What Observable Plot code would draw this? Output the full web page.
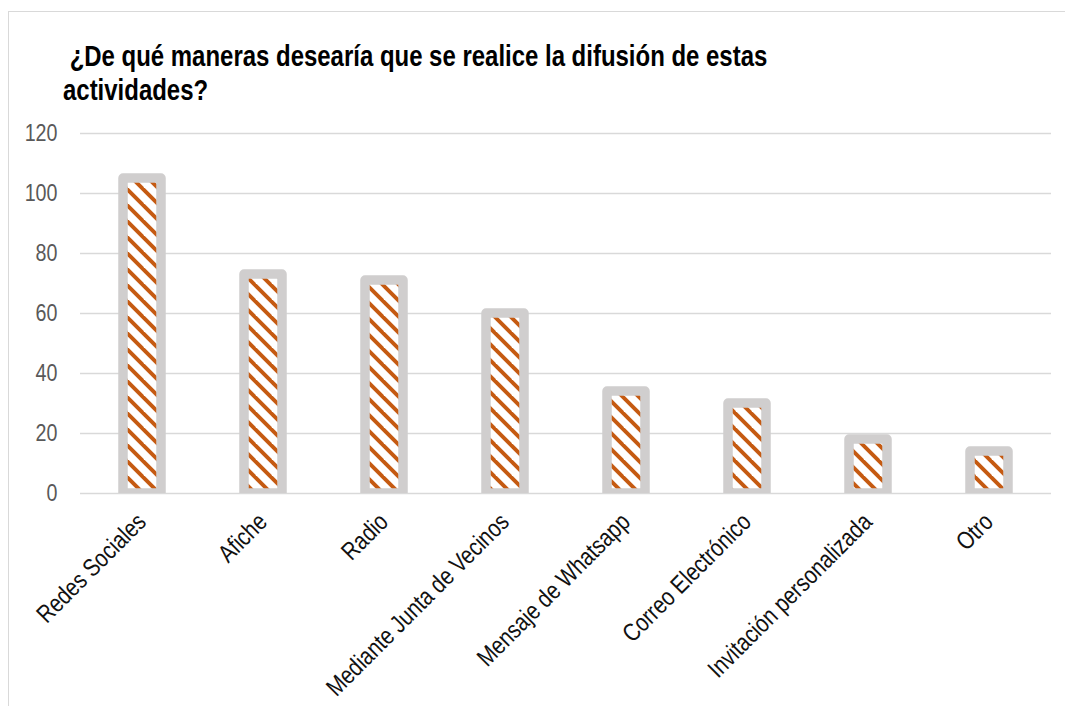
<!DOCTYPE html>
<html>
<head>
<meta charset="utf-8">
<script src="https://cdn.jsdelivr.net/npm/d3@7"></script>
<script src="https://cdn.jsdelivr.net/npm/@observablehq/plot@0.6"></script>
<style>
  html, body { margin: 0; padding: 0; overflow: hidden; background: #fff; }
  #wrap { position: relative; width: 1065px; height: 706px; overflow: hidden; }
  #frame { position: absolute; left: 8px; top: 11px; width: 1200px; height: 900px; border: 1px solid #d9d9d9; box-sizing: border-box; }
  #title { position: absolute; left: 63px; top: 40px; margin: 0;
    font-family: "Liberation Sans", Arial, sans-serif;
    font-weight: bold; font-size: 29px; line-height: 33.5px; color: #000; white-space: pre;
    transform: scaleX(0.826); transform-origin: 0 0; }
  #chart { position: absolute; left: 0; top: 110px; }
</style>
</head>
<body>
<div id="wrap">
  <div id="frame"></div>
  <div id="title"> ¿De qué maneras desearía que se realice la difusión de estas
actividades?</div>
  <div id="chart"></div>
</div>
<script>
const categories = ["Redes Sociales", "Afiche", "Radio", "Mediante Junta de Vecinos", "Mensaje de Whatsapp", "Correo Electrónico", "Invitación personalizada", "Otro"];
const values = [105, 73, 71, 60, 34, 30, 18, 14];
const yTicks = [0, 20, 40, 60, 80, 100, 120];

const data = categories.map((c, i) => ({category: c, value: values[i]}));
const FONT = '"Liberation Sans", Arial, sans-serif';

const plot = Plot.plot({
  width: 1065,
  height: 596,
  marginLeft: 80,
  marginRight: 14,
  marginTop: 23,
  marginBottom: 213,
  style: {fontFamily: FONT, background: "transparent", overflow: "visible"},
  x: {domain: categories, paddingInner: 0.69, paddingOuter: 0.345, axis: null},
  y: {domain: [0, 120], axis: null},
  marks: [
    Plot.gridY(yTicks, {stroke: "#d9d9d9", strokeOpacity: 1, strokeWidth: 1.5}),
    Plot.barY(data, {x: "category", y: "value", fill: "url(#stripes)", stroke: "#d0cece", strokeWidth: 9.5, strokeLinejoin: "round", clip: true}),
    Plot.text(yTicks, {y: d => d, frameAnchor: "left", textAnchor: "end", dx: -23, fontSize: 24, fill: "#595959"}),
    Plot.text(categories, {x: d => d, frameAnchor: "bottom", rotate: -45, textAnchor: "end", dx: 5, dy: 30, fontSize: 25, fill: "#111"})
  ]
});

// pattern definition for striped bars
const svg = d3.select(plot);
const defs = svg.insert("defs", ":first-child");
const pat = defs.append("pattern")
  .attr("id", "stripes")
  .attr("patternUnits", "userSpaceOnUse")
  .attr("width", 16).attr("height", 16);
pat.append("rect").attr("width", 16).attr("height", 16).attr("fill", "#ffffff");
const lines = [[0, 0, 16, 16], [-4, 12, 4, 20], [12, -4, 20, 4]];
for (const [x1, y1, x2, y2] of lines) {
  pat.append("line").attr("x1", x1).attr("y1", y1).attr("x2", x2).attr("y2", y2)
    .attr("stroke", "#c55a11").attr("stroke-width", 3.9);
}

// emulate a narrow typeface (Arial Narrow) by horizontal compression of each label
svg.selectAll("text").each(function() {
  let t = this.getAttribute("transform") || "";
  if (!/translate/.test(t)) {
    const x = +(this.getAttribute("x") || 0), y = +(this.getAttribute("y") || 0);
    this.removeAttribute("x"); this.removeAttribute("y");
    t = `translate(${x},${y}) ` + t;
  }
  this.setAttribute("transform", t + " scale(0.82,1)");
});

document.getElementById("chart").appendChild(plot);
</script>
</body>
</html>
